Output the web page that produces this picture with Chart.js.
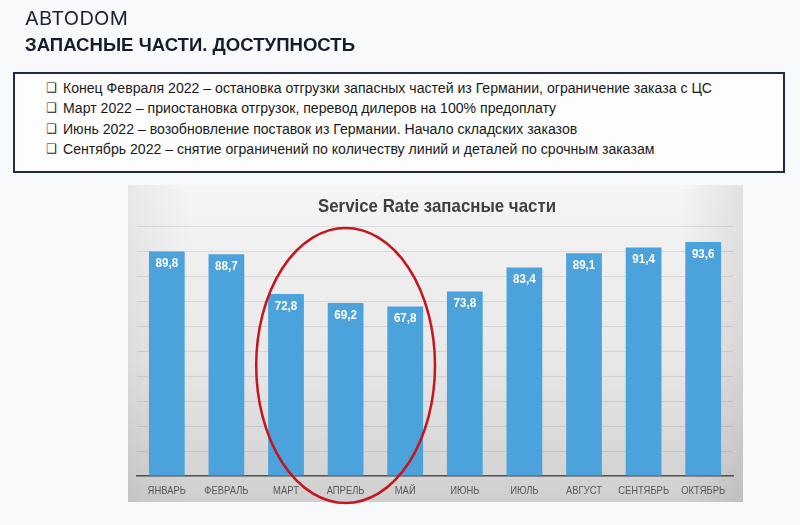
<!DOCTYPE html>
<html><head><meta charset="utf-8">
<script src="https://cdn.jsdelivr.net/npm/chart.js@4.4.0/dist/chart.umd.min.js"></script>
<style>
html,body{margin:0;padding:0;width:800px;height:525px;overflow:hidden;background:#f8f9fa;}
#c{position:absolute;left:0;top:0;}
.abs{position:absolute;white-space:nowrap;}
#logo{left:25px;top:7px;font:400 19px Inter,'Open Sans',sans-serif;color:#1b2233;letter-spacing:0.2px;transform-origin:0 0;}
#head{left:25px;top:34px;font:bold 19px 'Liberation Sans',Arial,sans-serif;color:#151c2c;transform-origin:0 0;}
#box{left:13px;top:72px;width:768px;height:97px;border:2px solid #1f2b4a;background:#fdfdfd;}
.ln{left:46px;font:15.5px 'Liberation Sans',Arial,sans-serif;color:#1a1a1a;transform-origin:0 50%;line-height:18px;}
.ln span.cb{font:bold 13px 'DejaVu Sans',sans-serif;margin-right:7px;position:relative;top:-1px;}
</style></head>
<body>
<canvas id="c" width="800" height="525"></canvas>
<div id="logo" class="abs">АВТОDOM</div>
<div id="head" class="abs">ЗАПАСНЫЕ ЧАСТИ. ДОСТУПНОСТЬ</div>
<div id="box" class="abs"></div>
<div id="lines"></div>
<script>
const headerLines = [
  "Конец Февраля 2022 – остановка отгрузки запасных частей из Германии, ограничение заказа с ЦС",
  "Март 2022 – приостановка отгрузок, перевод дилеров на 100% предоплату",
  "Июнь 2022 – возобновление поставок из Германии. Начало складских заказов",
  "Сентябрь 2022 – снятие ограничений по количеству линий и деталей по срочным заказам"
];
const chartTitle = "Service Rate запасные части";
const months = ["ЯНВАРЬ","ФЕВРАЛЬ","МАРТ","АПРЕЛЬ","МАЙ","ИЮНЬ","ИЮЛЬ","АВГУСТ","СЕНТЯБРЬ","ОКТЯБРЬ"];
const serviceRate = [89.8, 88.7, 72.8, 69.2, 67.8, 73.8, 83.4, 89.1, 91.4, 93.6];
const highlighted = [2, 3, 4];

// header text lines
const linesDiv = document.getElementById('lines');
const lineTops = [79, 99, 120, 140];
headerLines.forEach((t, i) => {
  const d = document.createElement('div');
  d.className = 'abs ln';
  d.style.top = lineTops[i] + 'px';
  d.innerHTML = '<span class="cb">❑</span>';
  d.appendChild(document.createTextNode(t));
  linesDiv.appendChild(d);
});
const lns = document.querySelectorAll('.ln');
const s = 666 / lns[0].getBoundingClientRect().width;
lns.forEach(el => el.style.transform = 'scaleX(' + s + ')');
const hd = document.getElementById('head');
hd.style.transform = 'scaleX(' + (330 / hd.getBoundingClientRect().width) + ')';
const lg = document.getElementById('logo');
lg.style.transform = 'scaleX(' + (103 / lg.getBoundingClientRect().width) + ')';

const FONT = "'Liberation Sans',Arial,sans-serif";

function narrowText(ctx, txt, x, y, squeeze) {
  const w = ctx.measureText(txt).width;
  ctx.fillText(txt, x, y, w * squeeze);
}

const panelPlugin = {
  id: 'panel',
  beforeDraw(chart) {
    const ctx = chart.ctx;
    const x0 = 128, y0 = 185, w = 615, h = 317;
    ctx.save();
    const g = ctx.createLinearGradient(0, y0, 0, y0 + h);
    g.addColorStop(0, '#f5f5f5');
    g.addColorStop(0.55, '#e8e8e8');
    g.addColorStop(1, '#cfcfcf');
    ctx.fillStyle = g;
    ctx.fillRect(x0, y0, w, h);
    const g2 = ctx.createLinearGradient(x0, 0, x0 + w, 0);
    g2.addColorStop(0, 'rgba(0,0,0,0.05)');
    g2.addColorStop(0.1, 'rgba(0,0,0,0)');
    g2.addColorStop(0.9, 'rgba(0,0,0,0)');
    g2.addColorStop(1, 'rgba(0,0,0,0.08)');
    ctx.fillStyle = g2;
    ctx.fillRect(x0, y0, w, h);
    ctx.fillStyle = '#404040';
    ctx.font = "bold 19px " + FONT;
    ctx.textAlign = 'center';
    ctx.textBaseline = 'middle';
    ctx.fillText(chartTitle, 437, 207, 238);
    ctx.restore();
  },
  afterDatasetsDraw(chart) {
    const ctx = chart.ctx;
    const meta = chart.getDatasetMeta(0);
    const xs = chart.scales.x, ys = chart.scales.y;
    ctx.save();
    ctx.textAlign = 'center';
    ctx.textBaseline = 'middle';
    // value labels
    ctx.fillStyle = '#ffffff';
    ctx.font = "bold 13.5px " + FONT;
    meta.data.forEach((bar, i) => {
      const txt = serviceRate[i].toFixed(1).replace('.', ',');
      narrowText(ctx, txt, bar.x, bar.y + 12, 0.86);
    });
    // month labels (condensed)
    ctx.fillStyle = '#595959';
    ctx.font = "11.5px " + FONT;
    months.forEach((m, i) => {
      narrowText(ctx, m, xs.getPixelForValue(i), chart.chartArea.bottom + 15, 0.82);
    });
    // highlight ellipse around the dip months
    const first = xs.getPixelForValue(highlighted[0]);
    const last = xs.getPixelForValue(highlighted[highlighted.length - 1]);
    const cw = (last - first) / (highlighted.length - 1);
    const cx = (first + last) / 2;
    const rx = (last - first) / 2 + cw * 0.5;
    const top = ys.getPixelForValue(99.2);
    const bottom = chart.chartArea.bottom + 27;
    ctx.beginPath();
    ctx.ellipse(cx, (top + bottom) / 2, rx, (bottom - top) / 2, 0, 0, Math.PI * 2);
    ctx.strokeStyle = '#c4161c';
    ctx.lineWidth = 2.5;
    ctx.stroke();
    ctx.restore();
  }
};

new Chart(document.getElementById('c'), {
  type: 'bar',
  data: {
    labels: months,
    datasets: [{
      data: serviceRate,
      backgroundColor: '#4ca2da',
      categoryPercentage: 1.0,
      barPercentage: 0.6
    }]
  },
  options: {
    responsive: false,
    animation: false,
    events: [],
    layout: { padding: { left: 137, right: 67, top: 226, bottom: 49 } },
    plugins: { legend: { display: false }, title: { display: false }, tooltip: { enabled: false } },
    scales: {
      x: {
        grid: { display: false, drawTicks: false },
        border: { display: true, color: '#555555', width: 1.5 },
        ticks: { display: false }
      },
      y: {
        min: 0, max: 100,
        ticks: { display: false, stepSize: 10 },
        grid: { color: 'rgba(0,0,0,0.09)', drawTicks: false, lineWidth: 1 },
        border: { display: false }
      }
    }
  },
  plugins: [panelPlugin]
});
</script>
</body></html>
